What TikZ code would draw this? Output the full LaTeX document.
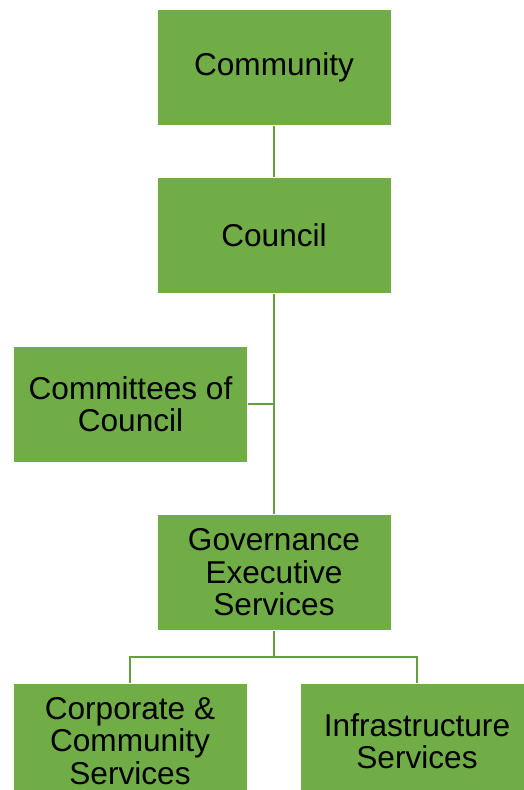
\documentclass[tikz,border=0pt]{standalone}
\usepackage{fontspec}
\setmainfont{Liberation Sans}
\usepackage{tikz}
\definecolor{boxgreen}{HTML}{70AD47}
\definecolor{linegreen}{HTML}{64A03E}
\tikzset{
  orgbox/.style={rectangle, fill=boxgreen, draw=white, line width=1pt,
    minimum width=234pt, minimum height=116pt, inner sep=2pt,
    align=center, font=\fontsize{31.6}{32.5}\selectfont},
  orgline/.style={draw=linegreen, line width=2pt}
}
\begin{document}
\begin{tikzpicture}[x=1pt,y=-1pt]
\useasboundingbox (0,0) rectangle (524,790);
\clip (0,0) rectangle (524,790);
\node[orgbox] (community) at (274,67) {Community};
\node[orgbox] (council) at (274,235.5) {Council};
\node[orgbox] (committees) at (130.5,404) {Committees of\\Council};
\node[orgbox] (governance) at (274,572.5) {Governance\\Executive\\Services};
\node[orgbox] (corporate) at (130,741) {Corporate \&\\Community\\Services};
\node[orgbox] (infra) at (417,741) {Infrastructure\\Services};
\coordinate (split) at (274,657);
\draw[orgline] (community.south) -- (council.north);
\draw[orgline] (council.south) -- (governance.north);
\draw[orgline] (committees.east) -- (council.south |- committees.east);
\draw[orgline] (governance.south) -- (split);
\draw[orgline] (split) -| (corporate.north);
\draw[orgline] (split) -| (infra.north);
\end{tikzpicture}
\end{document}
